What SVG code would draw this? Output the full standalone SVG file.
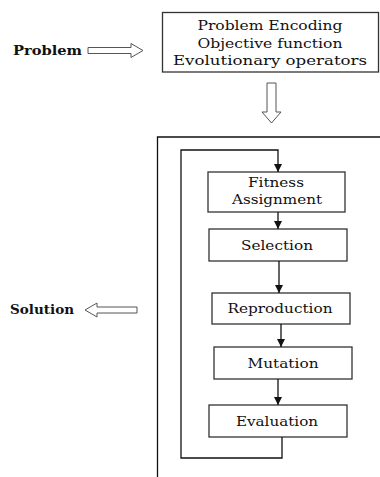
<svg xmlns="http://www.w3.org/2000/svg" width="380" height="477" viewBox="0 0 380 477">
<style>
.box{fill:#fff;stroke:#333;stroke-width:1.3}
.t{font-family:"DejaVu Serif","Liberation Serif",serif;font-size:13.5px;fill:#111;text-anchor:middle}
.b{font-family:"DejaVu Serif","Liberation Serif",serif;font-size:13px;font-weight:bold;fill:#111}
.hollow{fill:#fff;stroke:#555;stroke-width:1}
.ln{fill:none;stroke:#111;stroke-width:1.3}
</style>
<defs>
<marker id="ah" viewBox="0 0 10 10" refX="10" refY="5" markerWidth="8" markerHeight="8" markerUnits="userSpaceOnUse" orient="auto">
<path d="M0,0 L10,5 L0,10 Z" fill="#111"/>
</marker>
</defs>
<rect width="380" height="477" fill="#fff"/>
<g id="problem-label">
<text class="b" x="13" y="54.5" textLength="69" lengthAdjust="spacingAndGlyphs">Problem</text>
</g>
<g id="solution-label">
<text class="b" x="10" y="314" textLength="64" lengthAdjust="spacingAndGlyphs">Solution</text>
</g>
<g id="setup">
<rect class="box" x="162.5" y="12.5" width="216" height="59.5"/>
<text class="t" x="270" y="29.5" textLength="145" lengthAdjust="spacingAndGlyphs">Problem Encoding</text>
<text class="t" x="270" y="47.5" textLength="145" lengthAdjust="spacingAndGlyphs">Objective function</text>
<text class="t" x="270" y="65" textLength="194" lengthAdjust="spacingAndGlyphs">Evolutionary operators</text>
</g>
<g id="loop-frame">
<path class="ln" d="M157.5,477 V137 H380"/>
</g>
<g id="fitness">
<rect class="box" x="208" y="172" width="137" height="40"/>
<text class="t" x="276" y="187" textLength="56" lengthAdjust="spacingAndGlyphs">Fitness</text>
<text class="t" x="277" y="204" textLength="90" lengthAdjust="spacingAndGlyphs">Assignment</text>
</g>
<g id="selection">
<rect class="box" x="209" y="229" width="138" height="32"/>
<text class="t" x="277" y="249.5" textLength="72" lengthAdjust="spacingAndGlyphs">Selection</text>
</g>
<g id="reproduction">
<rect class="box" x="212" y="293" width="138" height="31"/>
<text class="t" x="280" y="313" textLength="105" lengthAdjust="spacingAndGlyphs">Reproduction</text>
</g>
<g id="mutation">
<rect class="box" x="214" y="347" width="138" height="32"/>
<text class="t" x="283" y="367.5" textLength="71" lengthAdjust="spacingAndGlyphs">Mutation</text>
</g>
<g id="evaluation">
<rect class="box" x="209" y="405" width="138" height="32"/>
<text class="t" x="277" y="425.5" textLength="82" lengthAdjust="spacingAndGlyphs">Evaluation</text>
</g>
<g id="connectors">
<polygon class="hollow" points="88,47.5 131,47.5 131,43.5 143,50.5 131,57.5 131,53.5 88,53.5"/>
<polygon class="hollow" points="137,307 97,307 97,303 85,310 97,317 97,313 137,313"/>
<polygon class="hollow" points="267,83 276,83 276,112 281,112 271.5,123 262,112 267,112"/>
<path class="ln" d="M282,437 V458 H181 V150 H278 V172" marker-end="url(#ah)"/>
<path class="ln" d="M278,212 V229" marker-end="url(#ah)"/>
<path class="ln" d="M279,261 V293" marker-end="url(#ah)"/>
<path class="ln" d="M281,324 V347" marker-end="url(#ah)"/>
<path class="ln" d="M278,379 V405" marker-end="url(#ah)"/>
</g>
</svg>
